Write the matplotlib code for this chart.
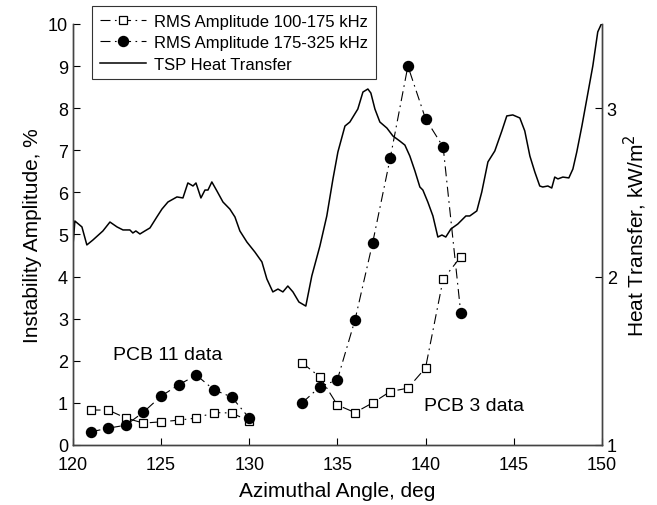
import numpy as np
import matplotlib
matplotlib.use("Agg")
import matplotlib.pyplot as plt

# 1. Data
# -----------------------------------------------------------------------------
# RMS amplitudes (PCB 11 at 121-130 deg, PCB 3 at 133-142 deg, gap in between)
angle_deg = [121, 122, 123, 124, 125, 126, 127, 128, 129, 130, np.nan,
             133, 134, 135, 136, 137, 138, 139, 140, 141, 142]
amp_100_175 = [0.83, 0.83, 0.64, 0.52, 0.55, 0.59, 0.64, 0.77, 0.76, 0.57, np.nan,
               1.95, 1.62, 0.95, 0.77, 1.00, 1.27, 1.35, 1.83, 3.94, 4.47]
amp_175_325 = [0.31, 0.40, 0.47, 0.78, 1.16, 1.43, 1.66, 1.31, 1.14, 0.64, np.nan,
               1.00, 1.38, 1.55, 2.97, 4.80, 6.82, 9.00, 7.75, 7.08, 3.13]

# TSP heat transfer trace (kW/m^2)
heat_angle = [120.00, 120.11, 120.51, 120.79, 121.13, 121.70, 122.10, 122.50, 122.84,
              123.23, 123.40, 123.57, 123.80, 124.08, 124.37, 124.76, 125.05, 125.39,
              125.90, 126.24, 126.52, 126.81, 126.98, 127.26, 127.49, 127.66, 127.88,
              128.17, 128.51, 128.90, 129.19, 129.47, 129.87, 130.32, 130.72, 131.00,
              131.34, 131.63, 131.91, 132.19, 132.48, 132.82, 133.21, 133.55, 134.01,
              134.40, 134.75, 135.03, 135.43, 135.71, 136.16, 136.45, 136.73, 136.90,
              137.13, 137.41, 137.81, 138.15, 138.54, 138.83, 139.11, 139.40, 139.68,
              139.85, 140.13, 140.42, 140.70, 140.93, 141.15, 141.44, 141.83, 142.29,
              142.51, 142.91, 143.19, 143.54, 143.93, 144.33, 144.61, 144.95, 145.35,
              145.63, 145.92, 146.20, 146.48, 146.65, 146.94, 147.16, 147.33, 147.51,
              147.79, 148.13, 148.36, 148.58, 148.87, 149.15, 149.49, 149.77, 150.00]
heat_flux = [2.18, 2.33, 2.295, 2.188, 2.217, 2.271, 2.324, 2.295, 2.277,
             2.277, 2.259, 2.271, 2.253, 2.271, 2.289, 2.354, 2.401, 2.443,
             2.473, 2.467, 2.556, 2.538, 2.556, 2.467, 2.514, 2.514, 2.562,
             2.508, 2.443, 2.401, 2.354, 2.271, 2.205, 2.146, 2.087, 1.986,
             1.909, 1.926, 1.909, 1.944, 1.909, 1.849, 1.825, 2.004, 2.182,
             2.360, 2.580, 2.740, 2.894, 2.918, 2.995, 3.096, 3.114, 3.090,
             2.995, 2.918, 2.882, 2.835, 2.805, 2.781, 2.716, 2.627, 2.532,
             2.514, 2.443, 2.360, 2.235, 2.247, 2.235, 2.283, 2.312, 2.360,
             2.360, 2.390, 2.502, 2.681, 2.746, 2.865, 2.954, 2.960, 2.942,
             2.865, 2.716, 2.621, 2.538, 2.532, 2.538, 2.526, 2.591, 2.580,
             2.591, 2.586, 2.639, 2.740, 2.894, 3.055, 3.251, 3.453, 3.506]

x_ticks = [120, 125, 130, 135, 140, 145, 150]
left_ticks = [0, 1, 2, 3, 4, 5, 6, 7, 8, 9, 10]
right_ticks = [1, 2, 3]

# 2. Plot
# -----------------------------------------------------------------------------
plt.rcParams['font.family'] = ['Liberation Sans', 'DejaVu Sans']

fig = plt.figure(figsize=(6.57, 5.06), dpi=100)
ax1 = fig.add_axes([0.111, 0.1186, 0.805, 0.832])
ax2 = ax1.twinx()

# MATLAB-like dash-dot pattern
dashdot = [9, 4, 1.5, 4]

l1, = ax1.plot(angle_deg, amp_100_175, color='black', linewidth=0.8, dashes=dashdot,
               marker='s', markersize=6, markerfacecolor='white',
               markeredgecolor='black', markeredgewidth=0.9,
               label='RMS Amplitude 100-175 kHz')
l2, = ax1.plot(angle_deg, amp_175_325, color='black', linewidth=0.8, dashes=dashdot,
               marker='o', markersize=7.2, markerfacecolor='black',
               markeredgecolor='black', label='RMS Amplitude 175-325 kHz')
l3, = ax2.plot(heat_angle, heat_flux, color='black', linewidth=1.1,
               label='TSP Heat Transfer')

ax1.set_xlim(120, 150)
ax1.set_ylim(0, 10)
ax2.set_ylim(1, 3.5)
ax1.set_xticks(x_ticks)
ax1.set_yticks(left_ticks)
ax2.set_yticks(right_ticks)

for ax in (ax1, ax2):
    ax.spines['top'].set_visible(False)
    for s in ('left', 'bottom', 'right'):
        ax.spines[s].set_color('#444444')
        ax.spines[s].set_linewidth(1.0)
    ax.tick_params(direction='in', length=5, width=0.8, labelsize=13, colors='black')
ax1.tick_params(axis='y', right=False)
ax1.tick_params(axis='x', pad=8)

ax1.set_xlabel('Azimuthal Angle, deg', fontsize=15, labelpad=6)
ax1.set_ylabel('Instability Amplitude, %', fontsize=15)
ax2.set_ylabel('Heat Transfer, kW/m$^2$', fontsize=15)

ax1.text(125.4, 2.16, 'PCB 11 data', fontsize=14, ha='center', va='center')
ax1.text(142.75, 0.93, 'PCB 3 data', fontsize=14, ha='center', va='center')

leg = ax2.legend(handles=[l1, l2, l3], loc='upper left',
                 bbox_to_anchor=(92 / 657, 1 - 7 / 506), bbox_transform=fig.transFigure,
                 fontsize=12, frameon=True, fancybox=False, handlelength=2.8,
                 borderaxespad=0, borderpad=0.45, labelspacing=0.4, handletextpad=0.5)
leg.get_frame().set_edgecolor('black')
leg.get_frame().set_linewidth(0.8)

plt.savefig('out.png', dpi=100)
